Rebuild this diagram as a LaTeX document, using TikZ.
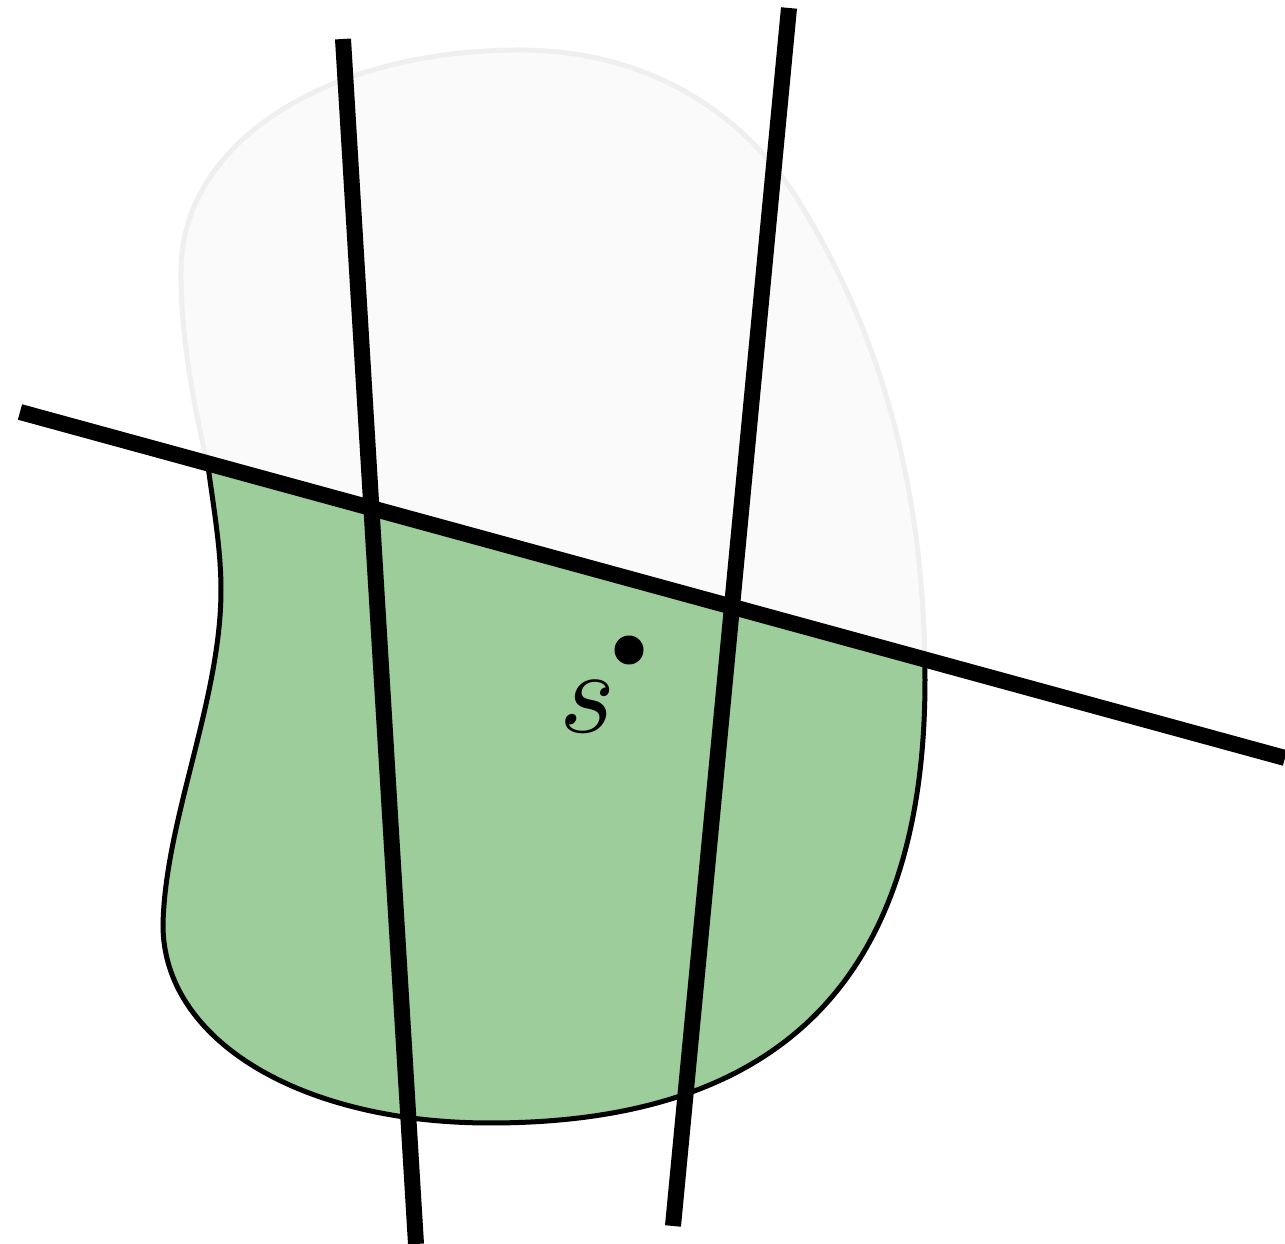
\documentclass[tikz,border=0pt]{standalone}
\usepackage{graphicx}
\usetikzlibrary{positioning,calc}
\definecolor{regiongreen}{RGB}{156,205,155}
\definecolor{ghostfill}{RGB}{249,250,249}
\definecolor{ghostline}{RGB}{239,239,239}
\begin{document}
\begin{tikzpicture}[x=0.1mm, y=-0.1mm,
	cutline/.style={line width=1.6mm},
	blobline/.style={line width=0.5mm},
	sdot/.style={circle, fill=black, inner sep=0pt, minimum size=2.9mm}]
	\useasboundingbox (0,0) rectangle (1285,1244);
	% the region
	\path[save path=\blobsave] (520,50)
		.. controls (330,50) and (182,140) .. (181,270)
		.. controls (180,340) and (197,420) .. (208,466)
		.. controls (214,510) and (221,550) .. (221,590)
		.. controls (221,700) and (165,820) .. (163,925)
		.. controls (163,1040) and (300,1123) .. (490,1123)
		.. controls (780,1123) and (925,980) .. (925,680)
		.. controls (925,480) and (877,328) .. (798,200)
		.. controls (745,115) and (650,50) .. (520,50) -- cycle;
	\fill[ghostfill, draw=ghostline, blobline, use path=\blobsave];
	\begin{scope}
		\clip (0,406.5) -- (1285,758) -- (1285,1244) -- (0,1244) -- cycle;
		\fill[regiongreen, draw=black, blobline, use path=\blobsave];
	\end{scope}
	% cutting lines
	\coordinate (a1) at (343,39);
	\coordinate (a2) at (416,1244);
	\coordinate (b1) at (789,8);
	\coordinate (b2) at (673,1226);
	\coordinate (c1) at (20,412);
	\coordinate (c2) at (1285,758);
	\draw[cutline] (a1) -- (a2);
	\draw[cutline] (b1) -- (b2);
	\draw[cutline] (c1) -- (c2);
	% the point
	\node[sdot] (s) at (629,650) {};
	\node[inner sep=0pt] (slabel) at (588,707) {\scalebox{3.4}{$s$}};
\end{tikzpicture}
\end{document}
